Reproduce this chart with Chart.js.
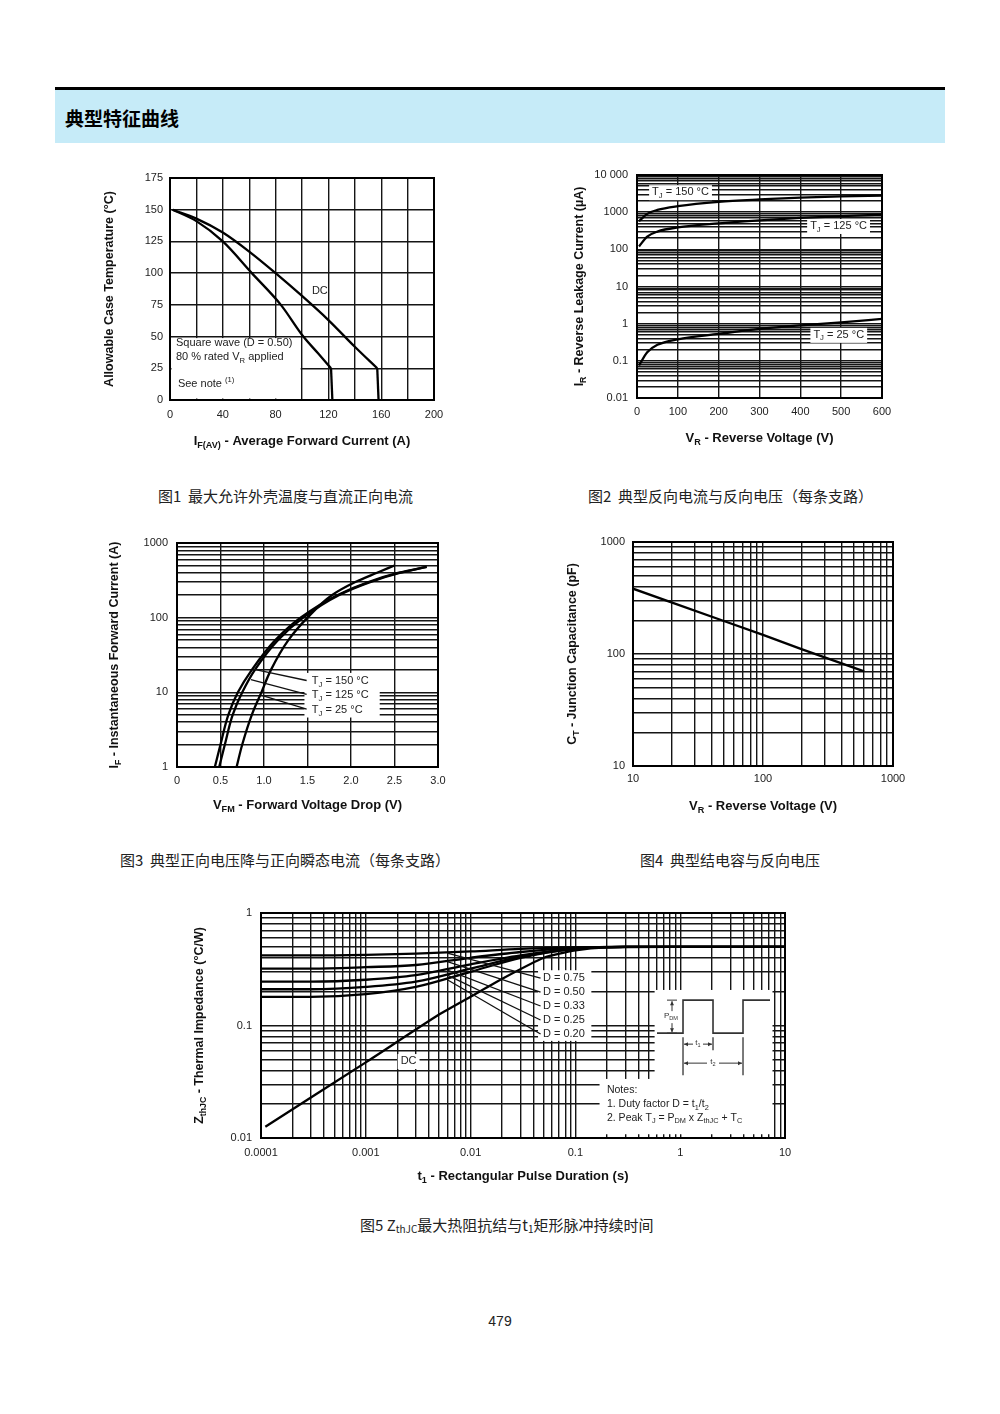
<!DOCTYPE html>
<html>
<head>
<meta charset="utf-8">
<script src="https://cdn.jsdelivr.net/npm/chart.js@4.4.1/dist/chart.umd.min.js"></script>
<style>
  body { margin: 0; background: #fff; }
  #page { position: relative; width: 1000px; height: 1414px; overflow: hidden; font-family: "Noto Sans CJK SC", sans-serif; }
  canvas { position: absolute; }
  .rule { position: absolute; left: 55px; top: 87px; width: 890px; height: 3px; background: #000; }
  .band { position: absolute; left: 55px; top: 90px; width: 890px; height: 53px; background: #c6ebf8; }
  .band span { position: absolute; left: 10px; top: 14px; font-size: 19px; font-weight: bold; color: #000; }
  .cap { position: absolute; font-size: 15px; color: #222; white-space: nowrap; line-height: 20px; }
  .cap sub { font-size: 10px; vertical-align: -2px; }
  .pageno { position: absolute; left: 0; width: 1000px; top: 1313px; text-align: center; font-family: "Liberation Sans", Arial, sans-serif; font-size: 14px; color: #222; }
</style>
</head>
<body>
<div id="page">
  <div class="rule"></div>
  <div class="band"><span>典型特征曲线</span></div>
  <div class="cap" style="left:158px;top:486px">图1&nbsp; 最大允许外壳温度与直流正向电流</div>
  <div class="cap" style="left:588px;top:486px">图2&nbsp; 典型反向电流与反向电压（每条支路）</div>
  <div class="cap" style="left:120px;top:850px">图3&nbsp; 典型正向电压降与正向瞬态电流（每条支路）</div>
  <div class="cap" style="left:640px;top:850px">图4&nbsp; 典型结电容与反向电压</div>
  <div class="cap" style="left:360px;top:1215px">图5 Z<sub>thJC</sub>最大热阻抗结与t<sub>1</sub>矩形脉冲持续时间</div>
  <div class="pageno">479</div>
</div>
<script>
// ---- data ----

// Fig 1: allowable case temperature vs average forward current
const f1CurrentDC = [2, 20, 40, 60, 80, 100, 120, 140, 157, 158];
const f1TempDC = [150, 143, 132, 117, 100, 82, 63, 42, 25, 0];
const f1CurrentSq = [2, 20, 40, 62, 84, 101, 112, 122, 123];
const f1TempSq = [150, 141, 125, 100, 75, 50, 37, 25, 0];
const f1XLabels = [0, 40, 80, 120, 160, 200];
const f1YLabels = [0, 25, 50, 75, 100, 125, 150, 175];

// Fig 2: reverse leakage current vs reverse voltage
const f2Voltage = [5, 25, 50, 100, 200, 300, 400, 500, 600];
const f2Leak150 = [570, 900, 1150, 1450, 1900, 2200, 2450, 2650, 2800];
const f2Leak125 = [120, 220, 300, 390, 500, 600, 700, 780, 860];
const f2Leak25 = [0.075, 0.17, 0.27, 0.38, 0.53, 0.72, 0.9, 1.08, 1.35];
const f2XLabels = [0, 100, 200, 300, 400, 500, 600];
const f2YDecades = [0.01, 0.1, 1, 10, 100, 1000, 10000];
const f2YLabels = ['0.01', '0.1', '1', '10', '100', '1000', '10 000'];

// Fig 3: instantaneous forward current vs forward voltage drop
const f3Current = [1, 2, 5, 10, 20, 50, 100, 200, 300, 400, 480];
const f3V150 = [0.435, 0.5, 0.59, 0.7, 0.86, 1.13, 1.42, 1.84, 2.2, 2.55, 2.87];
const f3V125 = [0.485, 0.55, 0.64, 0.75, 0.895, 1.16, 1.45, 1.86, 2.22, 2.57, 2.87];
const f3Current25 = [1, 2, 5, 10, 20, 50, 100, 200, 300, 400, 500];
const f3V25 = [0.685, 0.75, 0.86, 0.97, 1.08, 1.28, 1.5, 1.78, 2.05, 2.3, 2.5];
const f3XLabels = ['0', '0.5', '1.0', '1.5', '2.0', '2.5', '3.0'];
const f3YDecades = [1, 10, 100, 1000];

// Fig 4: junction capacitance vs reverse voltage
const f4Voltage = [10, 20, 50, 100, 200, 600];
const f4Cap = [383, 288, 197, 148, 110, 70];
const f4XDecades = [10, 100, 1000];
const f4YDecades = [10, 100, 1000];

// Fig 5: transient thermal impedance vs pulse duration
const f5Time = [0.0001, 0.0003, 0.001, 0.003, 0.01, 0.03, 0.1, 0.3, 1, 10];
const f5D075 = [0.42, 0.42, 0.425, 0.435, 0.455, 0.48, 0.495, 0.5, 0.5, 0.5];
const f5D050 = [0.32, 0.32, 0.33, 0.345, 0.4, 0.45, 0.49, 0.5, 0.5, 0.5];
const f5D033 = [0.245, 0.245, 0.255, 0.28, 0.35, 0.42, 0.485, 0.5, 0.5, 0.5];
const f5D025 = [0.21, 0.21, 0.22, 0.245, 0.32, 0.41, 0.48, 0.5, 0.5, 0.5];
const f5D020 = [0.18, 0.18, 0.19, 0.22, 0.3, 0.4, 0.48, 0.5, 0.5, 0.5];
const f5TimeDC = [0.00011, 0.001, 0.005, 0.01, 0.02, 0.05, 0.1, 0.2, 1, 10];
const f5DC = [0.0126, 0.047, 0.125, 0.18, 0.26, 0.4, 0.465, 0.495, 0.5, 0.5];
const f5XDecades = [0.0001, 0.001, 0.01, 0.1, 1, 10];
const f5XLabels = ['0.0001', '0.001', '0.01', '0.1', '1', '10'];
const f5YDecades = [0.01, 0.1, 1];
const f5DLabels = ['D = 0.75', 'D = 0.50', 'D = 0.33', 'D = 0.25', 'D = 0.20'];

// ---- helpers ----
const PAD_T = 14, PAD_R = 24;
const GRID = '#151515';
const FAMILY = '"Liberation Sans", Arial, sans-serif';
Chart.defaults.font.family = FAMILY;
Chart.defaults.color = '#222';

function pts(xs, ys) { return xs.map((x, i) => ({ x: x, y: ys[i] })); }

function logGrid(min, max) {
  const out = [];
  for (let e = Math.round(Math.log10(min)); e < Math.round(Math.log10(max)); e++) {
    for (let m = 1; m < 10; m++) out.push(+(m * Math.pow(10, e)).toPrecision(3));
  }
  out.push(max);
  return out;
}
function linGrid(min, max, step) {
  const out = [];
  for (let v = min; v <= max + 1e-9; v += step) out.push(+v.toFixed(6));
  return out;
}
function labelFrom(values, texts) {
  return function (v) {
    const i = values.findIndex(d => Math.abs(d - v) < Math.abs(d) * 1e-6 + 1e-9);
    return i < 0 ? '' : String(texts[i]);
  };
}

function parseRich(s) {
  const parts = [];
  const re = /([_^])\{([^}]*)\}|([^_^]+)/g;
  let m;
  while ((m = re.exec(s))) {
    if (m[3]) parts.push({ t: m[3], m: '' });
    else parts.push({ t: m[2], m: m[1] === '_' ? 'sub' : 'sup' });
  }
  return parts;
}
function fontStr(size, bold) { return (bold ? 'bold ' : '') + size + 'px ' + FAMILY; }
function richWidth(ctx, s, size, bold) {
  let w = 0;
  parseRich(s).forEach(p => { ctx.font = fontStr(p.m ? size * 0.7 : size, bold); w += ctx.measureText(p.t).width; });
  return w;
}
function drawRich(ctx, s, x, y, size, bold, align) {
  const w = richWidth(ctx, s, size, bold);
  let cx = align === 'center' ? x - w / 2 : align === 'right' ? x - w : x;
  ctx.textAlign = 'left';
  ctx.textBaseline = 'middle';
  parseRich(s).forEach(p => {
    const sz = p.m ? size * 0.7 : size;
    ctx.font = fontStr(sz, bold);
    const dy = p.m === 'sub' ? size * 0.32 : p.m === 'sup' ? -size * 0.38 : 0;
    ctx.fillText(p.t, cx, y + dy);
    cx += ctx.measureText(p.t).width;
  });
}

function arrowHead(ctx, x, y, dir) {
  const s = 4;
  ctx.beginPath();
  if (dir === 'l') { ctx.moveTo(x, y); ctx.lineTo(x + s, y - 2); ctx.lineTo(x + s, y + 2); }
  if (dir === 'r') { ctx.moveTo(x, y); ctx.lineTo(x - s, y - 2); ctx.lineTo(x - s, y + 2); }
  if (dir === 'u') { ctx.moveTo(x, y); ctx.lineTo(x - 2, y + s); ctx.lineTo(x + 2, y + s); }
  if (dir === 'd') { ctx.moveTo(x, y); ctx.lineTo(x - 2, y - s); ctx.lineTo(x + 2, y - s); }
  ctx.closePath();
  ctx.fill();
}
function seg(ctx, x1, y1, x2, y2) { ctx.beginPath(); ctx.moveTo(x1, y1); ctx.lineTo(x2, y2); ctx.stroke(); }

// pulse train sketch in the notes box of fig 5 (schematic, anchored to the box corner)
function drawPulse(ctx, ax, ay) {
  ctx.save();
  ctx.strokeStyle = '#333';
  ctx.fillStyle = '#333';
  ctx.lineWidth = 1.6;
  ctx.beginPath();
  ctx.moveTo(ax + 2, ay + 41); ctx.lineTo(ax + 28, ay + 41); ctx.lineTo(ax + 28, ay + 8);
  ctx.lineTo(ax + 58, ay + 8); ctx.lineTo(ax + 58, ay + 41); ctx.lineTo(ax + 88, ay + 41);
  ctx.lineTo(ax + 88, ay + 8); ctx.lineTo(ax + 115, ay + 8);
  ctx.stroke();
  ctx.lineWidth = 1;
  seg(ctx, ax + 12, ay + 8, ax + 22, ay + 8);
  seg(ctx, ax + 12, ay + 41, ax + 22, ay + 41);
  seg(ctx, ax + 17, ay + 9, ax + 17, ay + 19);
  seg(ctx, ax + 17, ay + 31, ax + 17, ay + 40);
  arrowHead(ctx, ax + 17, ay + 9, 'u');
  arrowHead(ctx, ax + 17, ay + 40, 'd');
  drawRich(ctx, 'P_{DM}', ax + 16, ay + 24, 8, false, 'center');
  ctx.lineWidth = 1.3;
  seg(ctx, ax + 28, ay + 45, ax + 28, ay + 83);
  seg(ctx, ax + 58, ay + 45, ax + 58, ay + 58);
  seg(ctx, ax + 88, ay + 45, ax + 88, ay + 83);
  ctx.lineWidth = 1;
  seg(ctx, ax + 29, ay + 52, ax + 38, ay + 52);
  seg(ctx, ax + 48, ay + 52, ax + 57, ay + 52);
  arrowHead(ctx, ax + 29, ay + 52, 'l');
  arrowHead(ctx, ax + 57, ay + 52, 'r');
  drawRich(ctx, 't_{1}', ax + 43, ay + 51, 8, false, 'center');
  seg(ctx, ax + 29, ay + 71, ax + 52, ay + 71);
  seg(ctx, ax + 64, ay + 71, ax + 87, ay + 71);
  arrowHead(ctx, ax + 29, ay + 71, 'l');
  arrowHead(ctx, ax + 87, ay + 71, 'r');
  drawRich(ctx, 't_{2}', ax + 58, ay + 70, 8, false, 'center');
  ctx.restore();
}

const sheetPlugin = {
  id: 'sheet',
  beforeDatasetsDraw(chart, args, o) {
    const { ctx, chartArea: a, scales: { x, y } } = chart;
    ctx.save();
    ctx.fillStyle = '#fff';
    (o.boxes || []).forEach(b => {
      let x0 = x.getPixelForValue(b[0]), x1 = x.getPixelForValue(b[2]);
      let y0 = y.getPixelForValue(b[3]), y1 = y.getPixelForValue(b[1]);
      x0 = Math.max(x0, a.left + 1.5); x1 = Math.min(x1, a.right - 1.5);
      y0 = Math.max(y0, a.top + 1.5); y1 = Math.min(y1, a.bottom - 1.5);
      ctx.fillRect(x0, y0, x1 - x0, y1 - y0);
    });
    (o.labels || []).forEach(l => {
      if (!l.bg) return;
      const px = x.getPixelForValue(l.x), py = y.getPixelForValue(l.y);
      const w = richWidth(ctx, l.text, l.size || 11, false);
      ctx.fillStyle = '#fff';
      ctx.fillRect(px - 3, py - 7, w + 6, 15);
    });
    ctx.restore();
  },
  afterDatasetsDraw(chart, args, o) {
    const { ctx, scales: { x, y } } = chart;
    ctx.save();
    ctx.strokeStyle = '#111';
    ctx.lineWidth = 1.3;
    (o.leaders || []).forEach(l => {
      seg(ctx, x.getPixelForValue(l[0]), y.getPixelForValue(l[1]), x.getPixelForValue(l[2]), y.getPixelForValue(l[3]));
    });
    ctx.fillStyle = '#222';
    (o.labels || []).forEach(l => {
      drawRich(ctx, l.text, x.getPixelForValue(l.x), y.getPixelForValue(l.y), l.size || 11, false, l.align || 'left');
    });
    if (o.pulse) drawPulse(ctx, x.getPixelForValue(o.pulse.x), y.getPixelForValue(o.pulse.y));
    ctx.restore();
  },
  afterDraw(chart, args, o) {
    const { ctx, chartArea: a } = chart;
    ctx.save();
    ctx.strokeStyle = '#000';
    ctx.lineWidth = 2;
    ctx.strokeRect(a.left, a.top, a.right - a.left, a.bottom - a.top);
    ctx.fillStyle = '#111';
    if (o.xTitle) drawRich(ctx, o.xTitle, (a.left + a.right) / 2, a.bottom + o.xOff, 13, true, 'center');
    if (o.yTitle) {
      ctx.translate(a.left - o.yOff, (a.top + a.bottom) / 2);
      ctx.rotate(-Math.PI / 2);
      drawRich(ctx, o.yTitle, 0, 0, 12.5, true, 'center');
    }
    ctx.restore();
  }
};
Chart.register(sheetPlugin);

function axis(type, o) {
  return {
    type: type,
    min: o.min,
    max: o.max,
    grid: { color: GRID, lineWidth: 1.4, drawTicks: false },
    border: { color: '#000', width: 2 },
    ticks: {
      autoSkip: false, maxRotation: 0, padding: o.pad, color: '#222',
      font: { size: 11 }, callback: o.label
    },
    afterBuildTicks: function (sc) { sc.ticks = o.grid.map(v => ({ value: v })); },
    afterFit: function (sc) {
      sc.paddingLeft = 0; sc.paddingRight = 0; sc.paddingTop = 0; sc.paddingBottom = 0;
    }
  };
}

function curve(data, extra) {
  return Object.assign({
    data: data, borderColor: '#000', borderWidth: 2.3, pointRadius: 0,
    cubicInterpolationMode: 'monotone', fill: false
  }, extra || {});
}

function mount(plot, yW, xH, datasets, scales, sheet, extraOpts) {
  const page = document.getElementById('page');
  const c = document.createElement('canvas');
  const w = yW + (plot.r - plot.l) + PAD_R;
  const h = PAD_T + (plot.b - plot.t) + xH;
  c.width = w; c.height = h;
  c.style.left = (plot.l - yW) + 'px';
  c.style.top = (plot.t - PAD_T) + 'px';
  c.style.width = w + 'px';
  c.style.height = h + 'px';
  page.appendChild(c);
  const fy = scales.y.afterFit, fx = scales.x.afterFit;
  scales.y.afterFit = function (sc) { fy(sc); sc.width = yW; };
  scales.x.afterFit = function (sc) { fx(sc); sc.height = xH; };
  return new Chart(c.getContext('2d'), {
    type: 'line',
    data: { datasets: datasets },
    options: Object.assign({
      responsive: false, animation: false, events: [],
      parsing: false,
      layout: { padding: { top: PAD_T, right: PAD_R, left: 0, bottom: 0 } },
      plugins: { legend: { display: false }, tooltip: { enabled: false }, sheet: sheet },
      scales: scales
    }, extraOpts || {})
  });
}

// ---- Figure 1 ----
mount({ l: 170, t: 178, r: 434, b: 400 }, 80, 56, [
  curve(pts(f1CurrentDC.slice(0, -1), f1TempDC.slice(0, -1))),
  curve(pts(f1CurrentDC.slice(-2), f1TempDC.slice(-2)), { cubicInterpolationMode: 'default', tension: 0 }),
  curve(pts(f1CurrentSq.slice(0, -1), f1TempSq.slice(0, -1))),
  curve(pts(f1CurrentSq.slice(-2), f1TempSq.slice(-2)), { cubicInterpolationMode: 'default', tension: 0 })
], {
  x: axis('linear', { min: 0, max: 200, grid: linGrid(0, 200, 20), pad: 8, label: labelFrom(f1XLabels, f1XLabels) }),
  y: axis('linear', { min: 0, max: 175, grid: f1YLabels, pad: 7, label: labelFrom(f1YLabels, f1YLabels) })
}, {
  boxes: [[0.5, 0.5, 99, 48.8]],
  labels: [
    { x: 107.5, y: 86, text: 'DC' },
    { x: 4.5, y: 45, text: 'Square wave (D = 0.50)' },
    { x: 4.5, y: 34, text: '80 % rated V_{R} applied' },
    { x: 6, y: 12.8, text: 'See note ^{(1)}' }
  ],
  xTitle: 'I_{F(AV)} - Average Forward Current (A)', xOff: 41,
  yTitle: 'Allowable Case Temperature (°C)', yOff: 60
});

// ---- Figure 2 ----
mount({ l: 637, t: 175, r: 882, b: 398 }, 80, 56, [
  curve(pts(f2Voltage, f2Leak150)),
  curve(pts(f2Voltage, f2Leak125)),
  curve(pts(f2Voltage, f2Leak25))
], {
  x: axis('linear', { min: 0, max: 600, grid: f2XLabels, pad: 7, label: labelFrom(f2XLabels, f2XLabels) }),
  y: axis('logarithmic', { min: 0.01, max: 10000, grid: logGrid(0.01, 10000), pad: 9, label: labelFrom(f2YDecades, f2YLabels) })
}, {
  labels: [
    { x: 37, y: 3450, text: 'T_{J} = 150 °C', bg: true },
    { x: 424, y: 425, text: 'T_{J} = 125 °C', bg: true },
    { x: 432, y: 0.5, text: 'T_{J} = 25 °C', bg: true }
  ],
  xTitle: 'V_{R} - Reverse Voltage (V)', xOff: 40,
  yTitle: 'I_{R} - Reverse Leakage Current (µA)', yOff: 57
});

// ---- Figure 3 (curves are steep, so smooth them along the current axis) ----
mount({ l: 177, t: 543, r: 438, b: 767 }, 80, 56, [
  curve(pts(f3V150, f3Current)),
  curve(pts(f3V125, f3Current)),
  curve(pts(f3V25, f3Current25))
], {
  x: axis('linear', { min: 0, max: 3, grid: linGrid(0, 3, 0.5), pad: 7, label: function (v, i) { return f3XLabels[i]; } }),
  y: axis('logarithmic', { min: 1, max: 1000, grid: logGrid(1, 1000), pad: 9, label: labelFrom(f3YDecades, f3YDecades) })
}, {
  boxes: [[1.465, 4.6, 2.33, 18.2]],
  leaders: [[0.875, 20.5, 1.49, 14.4], [0.85, 14.8, 1.49, 9.4], [0.965, 9.2, 1.49, 5.95]],
  labels: [
    { x: 1.55, y: 14.2, text: 'T_{J} = 150 °C' },
    { x: 1.55, y: 9.2, text: 'T_{J} = 125 °C' },
    { x: 1.55, y: 5.8, text: 'T_{J} = 25 °C' }
  ],
  xTitle: 'V_{FM} - Forward Voltage Drop (V)', xOff: 38,
  yTitle: 'I_{F} - Instantaneous Forward Current (A)', yOff: 62
}, { indexAxis: 'y' });

// ---- Figure 4 ----
mount({ l: 633, t: 542, r: 893, b: 766 }, 80, 56, [
  curve(pts(f4Voltage, f4Cap), { cubicInterpolationMode: 'default', tension: 0 })
], {
  x: axis('logarithmic', { min: 10, max: 1000, grid: logGrid(10, 1000), pad: 6, label: labelFrom(f4XDecades, f4XDecades) }),
  y: axis('logarithmic', { min: 10, max: 1000, grid: logGrid(10, 1000), pad: 8, label: labelFrom(f4YDecades, f4YDecades) })
}, {
  xTitle: 'V_{R} - Reverse Voltage (V)', xOff: 40,
  yTitle: 'C_{T} - Junction Capacitance (pF)', yOff: 60
});

// ---- Figure 5 ----
const f5LabelY = [0.264, 0.198, 0.149, 0.112, 0.084];
const f5LeaderStart = [0.44, 0.37, 0.31, 0.28, 0.255];
mount({ l: 261, t: 913, r: 785, b: 1138 }, 80, 56, [
  curve(pts(f5Time, f5D075)),
  curve(pts(f5Time, f5D050)),
  curve(pts(f5Time, f5D033)),
  curve(pts(f5Time, f5D025)),
  curve(pts(f5Time, f5D020)),
  curve(pts(f5TimeDC, f5DC), { cubicInterpolationMode: 'default', tension: 0.2 })
], {
  x: axis('logarithmic', { min: 0.0001, max: 10, grid: logGrid(0.0001, 10), pad: 8, label: labelFrom(f5XDecades, f5XLabels) }),
  y: axis('logarithmic', { min: 0.01, max: 1, grid: logGrid(0.01, 1), pad: 9, label: labelFrom(f5YDecades, f5YDecades) })
}, {
  boxes: [
    [0.044, 0.073, 0.142, 0.31],
    [0.57, 0.0108, 7.6, 0.207],
    [0.17, 0.0108, 0.6, 0.0335]
  ],
  leaders: f5LabelY.map((v, i) => [0.006, f5LeaderStart[i], 0.0465, v]),
  labels: f5DLabels.map((t, i) => ({ x: 0.049, y: f5LabelY[i], text: t })).concat([
    { x: 0.00215, y: 0.0483, text: 'DC', bg: true },
    { x: 0.2, y: 0.0266, text: 'Notes:', size: 10.5 },
    { x: 0.2, y: 0.02, text: '1. Duty factor D = t_{1}/t_{2}', size: 10.5 },
    { x: 0.2, y: 0.0151, text: '2. Peak T_{J} = P_{DM} x Z_{thJC} + T_{C}', size: 10.5 }
  ]),
  pulse: { x: 0.575, y: 0.198 },
  xTitle: 't_{1} - Rectangular Pulse Duration (s)', xOff: 38,
  yTitle: 'Z_{thJC} - Thermal Impedance (°C/W)', yOff: 61
});
</script>
</body>
</html>
